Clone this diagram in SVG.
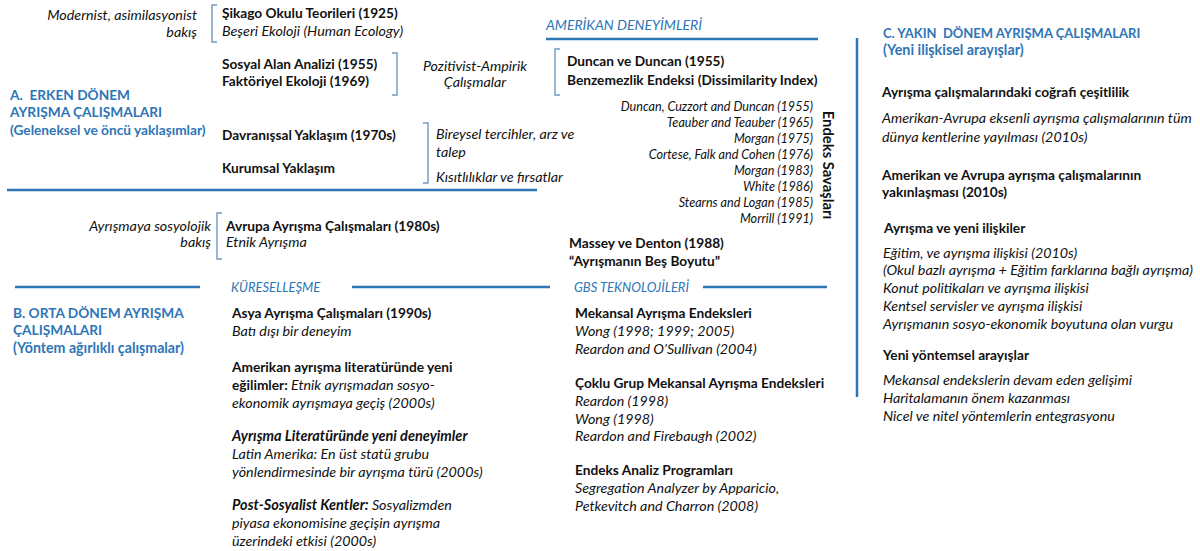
<svg xmlns="http://www.w3.org/2000/svg" width="1200" height="551" viewBox="0 0 1200 551">
<style>
text{font-family:Lato,"Open Sans","Liberation Sans",sans-serif;font-size:13.7px;fill:#111}
.b{font-weight:bold}
.i{font-style:italic;font-size:14.3px}
.bi{font-weight:bold;font-style:italic;font-size:14.5px}
.h{font-weight:bold;fill:#2e75b6}
.hi{font-style:italic;fill:#2e75b6;font-size:13px}
.ref{font-style:italic;font-size:12.6px;text-anchor:end}
.r{text-anchor:end}
.m{text-anchor:middle}
.ln{stroke:#2e75b6;stroke-width:2.5;fill:none}
.br{stroke:#6f9bc4;stroke-width:1.4;fill:none}
</style>
<rect width="1200" height="551" fill="#fff"/>
<g id="connectors">
<line class="ln" x1="7" y1="190" x2="537" y2="190"/>
<line class="ln" x1="546" y1="39" x2="818" y2="39"/>
<line class="ln" x1="15" y1="287" x2="200" y2="287"/>
<line class="ln" x1="352" y1="287" x2="550" y2="287"/>
<line class="ln" x1="703" y1="287" x2="827" y2="287"/>
<line class="ln" x1="857" y1="38" x2="857" y2="397"/>
<path class="br" d="M217 5 H212 V42 H217"/>
<path class="br" d="M392 53 H397 V95 H392"/>
<path class="br" d="M560 49 H555 V95 H560"/>
<path class="br" d="M423 123 H428 V183 H423"/>
<path class="br" d="M222 213 H217 V259 H222"/>
</g>
<g id="erken-baslik">
<text class="h" x="10" y="100" xml:space="preserve">A.  ERKEN DÖNEM</text>
<text class="h" x="10" y="117">AYRIŞMA ÇALIŞMALARI</text>
<text class="h" x="10" y="135">(Geleneksel ve öncü yaklaşımlar)</text>
</g>
<g id="modernist">
<text class="i r" x="197" y="20">Modernist, asimilasyonist</text>
<text class="i r" x="197" y="37">bakış</text>
</g>
<g id="sikago">
<text class="b" x="222" y="18">Şikago Okulu Teorileri (1925)</text>
<text class="i" x="222" y="36">Beşeri Ekoloji (Human Ecology)</text>
</g>
<g id="sosyal-alan">
<text class="b" x="222" y="69">Sosyal Alan Analizi (1955)</text>
<text class="b" x="222" y="86">Faktöriyel Ekoloji (1969)</text>
</g>
<g id="pozitivist">
<text class="i m" x="475" y="71">Pozitivist-Ampirik</text>
<text class="i m" x="475" y="87">Çalışmalar</text>
</g>
<g id="davranissal">
<text class="b" x="222" y="140">Davranışsal Yaklaşım (1970s)</text>
</g>
<g id="kurumsal">
<text class="b" x="222" y="173">Kurumsal Yaklaşım</text>
</g>
<g id="bireysel">
<text class="i" x="436" y="139">Bireysel tercihler, arz ve</text>
<text class="i" x="436" y="157">talep</text>
<text class="i" x="436" y="182">Kısıtlılıklar ve fırsatlar</text>
</g>
<g id="amerikan-deneyimleri">
<text class="hi" x="546" y="30" style="font-size:14px">AMERİKAN DENEYİMLERİ</text>
</g>
<g id="duncan">
<text class="b" x="567" y="66">Duncan ve Duncan (1955)</text>
<text class="b" x="567" y="85">Benzemezlik Endeksi (Dissimilarity Index)</text>
</g>
<g id="endeks-listesi">
<text class="ref" x="813" y="111">Duncan, Cuzzort and Duncan (1955)</text>
<text class="ref" x="813" y="127">Teauber and Teauber (1965)</text>
<text class="ref" x="813" y="143">Morgan (1975)</text>
<text class="ref" x="813" y="159">Cortese, Falk and Cohen (1976)</text>
<text class="ref" x="813" y="175">Morgan (1983)</text>
<text class="ref" x="813" y="191">White (1986)</text>
<text class="ref" x="813" y="207">Stearns and Logan (1985)</text>
<text class="ref" x="813" y="223">Morrill (1991)</text>
</g>
<g id="endeks-savaslari">
<text class="b m" transform="translate(823 165) rotate(90)" style="font-size:14.8px">Endeks Savaşları</text>
</g>
<g id="massey">
<text class="b" x="569" y="248">Massey ve Denton (1988)</text>
<text class="b" x="569" y="266">“Ayrışmanın Beş Boyutu”</text>
</g>
<g id="sosyolojik">
<text class="i r" x="211" y="231">Ayrışmaya sosyolojik</text>
<text class="i r" x="211" y="247">bakış</text>
</g>
<g id="avrupa">
<text class="b" x="226" y="231">Avrupa Ayrışma Çalışmaları (1980s)</text>
<text class="i" x="226" y="247">Etnik Ayrışma</text>
</g>
<g id="orta-baslik">
<text class="h" x="13" y="318">B. ORTA DÖNEM AYRIŞMA</text>
<text class="h" x="13" y="335">ÇALIŞMALARI</text>
<text class="h" x="13" y="353" style="font-size:14.2px">(Yöntem ağırlıklı çalışmalar)</text>
</g>
<g id="kuresellesme">
<text class="hi" x="231" y="292">KÜRESELLEŞME</text>
</g>
<g id="asya">
<text class="b" x="232" y="318">Asya Ayrışma Çalışmaları (1990s)</text>
<text class="i" x="232" y="336">Batı dışı bir deneyim</text>
</g>
<g id="amerikan-egilimler">
<text class="b" x="232" y="372">Amerikan ayrışma literatüründe yeni</text>
<text x="232" y="390"><tspan class="b">eğilimler:</tspan><tspan class="i"> Etnik ayrışmadan sosyo-</tspan></text>
<text class="i" x="232" y="408">ekonomik ayrışmaya geçiş (2000s)</text>
</g>
<g id="yeni-deneyimler">
<text class="bi" x="232" y="441">Ayrışma Literatüründe yeni deneyimler</text>
<text class="i" x="232" y="459">Latin Amerika: En üst statü grubu</text>
<text class="i" x="232" y="477">yönlendirmesinde bir ayrışma türü (2000s)</text>
</g>
<g id="post-sosyalist">
<text x="232" y="510"><tspan class="bi">Post-Sosyalist Kentler:</tspan><tspan class="i"> Sosyalizmden</tspan></text>
<text class="i" x="232" y="528">piyasa ekonomisine geçişin ayrışma</text>
<text class="i" x="232" y="546">üzerindeki etkisi (2000s)</text>
</g>
<g id="gbs">
<text class="hi" x="574" y="292">GBS TEKNOLOJİLERİ</text>
</g>
<g id="mekansal">
<text class="b" x="575" y="318">Mekansal Ayrışma Endeksleri</text>
<text class="i" x="575" y="336">Wong (1998; 1999; 2005)</text>
<text class="i" x="575" y="354">Reardon and O’Sullivan (2004)</text>
</g>
<g id="coklu-grup">
<text class="b" x="575" y="388">Çoklu Grup Mekansal Ayrışma Endeksleri</text>
<text class="i" x="575" y="406">Reardon (1998)</text>
<text class="i" x="575" y="424">Wong (1998)</text>
<text class="i" x="575" y="441">Reardon and Firebaugh (2002)</text>
</g>
<g id="endeks-analiz">
<text class="b" x="575" y="475">Endeks Analiz Programları</text>
<text class="i" x="575" y="493">Segregation Analyzer by Apparicio,</text>
<text class="i" x="575" y="511">Petkevitch and Charron (2008)</text>
</g>
<g id="yakin-baslik">
<text class="h" x="883" y="38" xml:space="preserve" style="font-size:13px">C. YAKIN  DÖNEM AYRIŞMA ÇALIŞMALARI</text>
<text class="h" x="883" y="55" style="font-size:14.3px">(Yeni ilişkisel arayışlar)</text>
</g>
<g id="cografi">
<text class="b" x="882" y="97">Ayrışma çalışmalarındaki coğrafi çeşitlilik</text>
<text class="i" x="882" y="123">Amerikan-Avrupa eksenli ayrışma çalışmalarının tüm</text>
<text class="i" x="882" y="142">dünya kentlerine yayılması (2010s)</text>
</g>
<g id="yakinlasma">
<text class="b" x="882" y="180">Amerikan ve Avrupa ayrışma çalışmalarının</text>
<text class="b" x="882" y="197">yakınlaşması (2010s)</text>
</g>
<g id="yeni-iliskiler">
<text class="b" x="884" y="233">Ayrışma ve yeni ilişkiler</text>
<text class="i" x="883" y="258">Eğitim, ve ayrışma ilişkisi (2010s)</text>
<text class="i" x="883" y="275">(Okul bazlı ayrışma + Eğitim farklarına bağlı ayrışma)</text>
<text class="i" x="883" y="293">Konut politikaları ve ayrışma ilişkisi</text>
<text class="i" x="883" y="311">Kentsel servisler ve ayrışma ilişkisi</text>
<text class="i" x="883" y="329">Ayrışmanın sosyo-ekonomik boyutuna olan vurgu</text>
</g>
<g id="yontemsel">
<text class="b" x="883" y="360">Yeni yöntemsel arayışlar</text>
<text class="i" x="883" y="385">Mekansal endekslerin devam eden gelişimi</text>
<text class="i" x="883" y="403">Haritalamanın önem kazanması</text>
<text class="i" x="883" y="421">Nicel ve nitel yöntemlerin entegrasyonu</text>
</g>
</svg>
